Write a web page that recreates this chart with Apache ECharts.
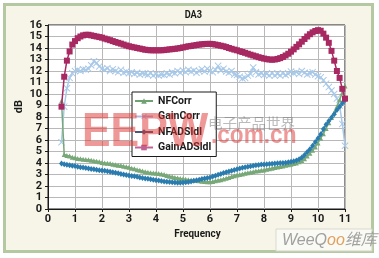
<!DOCTYPE html>
<html><head><meta charset="utf-8">
<script src="https://cdn.jsdelivr.net/npm/echarts@6/dist/echarts.min.js"></script>
<style>html,body{margin:0;padding:0;background:#fff}#c{width:379px;height:258px}</style>
</head><body><div id="c"></div>
<script>
const freq = [0.5,0.6,0.7,0.8,0.9,
 1.0,1.1,1.2,1.3,1.4,1.5,1.6,1.7,1.8,1.9,
 2.0,2.1,2.2,2.3,2.4,2.5,2.6,2.7,2.8,2.9,
 3.0,3.1,3.2,3.3,3.4,3.5,3.6,3.7,3.8,3.9,
 4.0,4.1,4.2,4.3,4.4,4.5,4.6,4.7,4.8,4.9,
 5.0,5.1,5.2,5.3,5.4,5.5,5.6,5.7,5.8,5.9,
 6.0,6.1,6.2,6.3,6.4,6.5,6.6,6.7,6.8,6.9,
 7.0,7.1,7.2,7.3,7.4,7.5,7.6,7.7,7.8,7.9,
 8.0,8.1,8.2,8.3,8.4,8.5,8.6,8.7,8.8,8.9,
 9.0,9.1,9.2,9.3,9.4,9.5,9.6,9.7,9.8,9.9,
 10.0,10.1,10.2,10.3,10.4,10.5,10.6,10.7,10.8,10.9,
 11.0];

const nfCorr = [9.4,4.75,4.65,4.6,4.5,
 4.45,4.4,4.38,4.33,4.3,4.28,4.25,4.2,4.15,4.1,
 4.05,4.0,3.98,3.95,3.9,3.85,3.8,3.78,3.72,3.68,
 3.62,3.55,3.5,3.42,3.38,3.3,3.25,3.2,3.15,3.12,
 3.1,3.08,3.05,3.0,2.92,2.85,2.8,2.75,2.7,2.65,
 2.62,2.58,2.55,2.52,2.5,2.47,2.45,2.42,2.4,2.38,
 2.38,2.4,2.45,2.5,2.55,2.6,2.68,2.75,2.82,2.9,
 2.95,3.0,3.05,3.1,3.15,3.2,3.25,3.3,3.33,3.37,
 3.4,3.45,3.5,3.55,3.6,3.65,3.7,3.75,3.8,3.85,
 3.9,3.95,4.0,4.1,4.22,4.38,4.6,4.85,5.1,5.4,
 5.75,6.15,6.55,7.0,7.5,7.95,8.4,8.9,9.5,10.1,
 10.7];

const gainCorr = [5.8,8.9,10.5,11.4,11.8,
 12.0,12.1,12.0,12.15,12.1,12.2,12.5,12.85,12.7,12.4,
 12.2,12.1,12.25,12.0,12.15,12.0,11.9,12.1,11.85,11.95,
 11.8,11.9,11.75,11.85,11.7,11.8,11.75,11.65,11.8,11.6,
 11.75,11.6,11.7,11.65,11.8,11.7,11.9,11.8,12.0,11.85,
 12.05,11.9,12.1,11.95,12.05,11.85,12.0,12.15,11.95,12.2,
 12.0,11.9,12.1,12.45,12.05,12.2,11.95,11.85,12.0,11.7,
 11.65,11.5,11.35,11.4,11.6,11.75,12.3,11.9,11.7,11.8,
 11.65,11.75,11.6,11.8,11.6,11.75,11.6,11.8,11.65,11.75,
 11.95,11.8,11.9,11.75,12.0,11.85,11.7,11.8,11.9,11.7,
 11.55,11.45,11.2,10.9,10.6,10.3,10.0,9.6,9.0,7.4,
 5.5];

const nfADS = [3.95,3.9,3.85,3.8,3.77,
 3.73,3.68,3.64,3.6,3.56,3.52,3.48,3.45,3.42,3.38,
 3.35,3.32,3.28,3.24,3.2,3.15,3.1,3.05,3.0,2.96,
 2.92,2.88,2.84,2.8,2.75,2.7,2.66,2.62,2.58,2.54,
 2.5,2.47,2.43,2.4,2.37,2.34,2.32,2.3,2.29,2.29,
 2.3,2.32,2.35,2.4,2.45,2.5,2.55,2.6,2.65,2.7,
 2.75,2.82,2.9,2.97,3.05,3.12,3.2,3.27,3.33,3.4,
 3.46,3.52,3.58,3.63,3.68,3.72,3.76,3.8,3.83,3.86,
 3.88,3.9,3.92,3.93,3.95,3.97,3.99,4.01,4.03,4.06,
 4.1,4.15,4.22,4.32,4.48,4.7,4.95,5.2,5.5,5.82,
 6.15,6.5,6.95,7.35,7.65,7.95,8.25,8.6,8.9,9.2,
 9.45];

const gainADS = [8.9,11.5,12.9,13.7,14.3,
 14.6,14.85,15.0,15.1,15.15,15.15,15.1,15.05,15.0,14.95,
 14.9,14.82,14.75,14.68,14.6,14.52,14.45,14.38,14.3,14.22,
 14.15,14.1,14.05,14.0,13.95,13.9,13.85,13.82,13.8,13.8,
 13.8,13.8,13.8,13.82,13.85,13.88,13.9,13.93,13.96,14.0,
 14.05,14.1,14.15,14.18,14.22,14.26,14.3,14.32,14.35,14.36,
 14.36,14.34,14.3,14.25,14.2,14.15,14.08,14.0,13.93,13.86,
 13.8,13.72,13.65,13.58,13.5,13.42,13.35,13.28,13.2,13.14,
 13.08,13.03,13.0,12.98,13.0,13.05,13.12,13.22,13.35,13.5,
 13.68,13.88,14.1,14.32,14.55,14.78,15.0,15.2,15.36,15.48,
 15.55,15.5,15.25,14.9,14.45,13.75,12.9,12.0,11.4,10.45,
 9.6];

const seriesNames = ['NFCorr','GainCorr','NFADSldl','GainADSldl'];
const xTicks = {min:0, max:11, interval:1};
const yTicks = {min:0, max:16, interval:1};

const F = "Roboto, 'DejaVu Sans Condensed', sans-serif";
const pairs = arr => freq.map((f,i)=>[f, arr[i]]);
const xMark = 'path://M1,0L5,4L9,0L10,1L6,5L10,9L9,10L5,6L1,10L0,9L4,5L0,1Z';

const chart = echarts.init(document.getElementById('c'), null, {renderer:'canvas'});
chart.setOption({
  animation:false,
  backgroundColor:'#ffffff',
  graphic:[
    {type:'rect', z:-10, shape:{x:4.5,y:4.5,width:368,height:247}, style:{fill:'#f7f5e7', stroke:'#b4c8a2', lineWidth:3}},
    {type:'text', z:3, x:193.3, y:14.8, scaleX:0.8, style:{text:'DA3', x:0, y:0, align:'center', verticalAlign:'middle', font:'bold 11.5px '+F, fill:'#1a1a1a'}},
    {type:'text', z:3, x:197.5, y:233.8, scaleX:0.86, style:{text:'Frequency', x:0, y:0, align:'center', verticalAlign:'middle', font:'bold 11.5px '+F, fill:'#1a1a1a'}},
    {type:'text', z:3, x:18.8, y:106.7, rotation:Math.PI/2, scaleX:0.95, style:{text:'dB', x:0, y:0, align:'center', verticalAlign:'middle', font:'bold 11.5px '+F, fill:'#1a1a1a'}},
    {type:'text', z:100, x:82, y:132, scaleX:0.875, style:{text:'EEPW', x:0, y:0, align:'left', verticalAlign:'middle', font:'bold 49px "Liberation Sans", sans-serif', fill:'rgba(222,50,50,0.5)'}},
    {type:'text', z:100, x:208, y:123, style:{text:'电子产品世界', x:0, y:0, align:'left', verticalAlign:'middle', font:'14.5px "Noto Sans CJK SC", sans-serif', fill:'rgba(120,120,120,0.5)'}},
    {type:'text', z:100, x:211, y:136, scaleX:0.87, style:{text:'.com.cn', x:0, y:0, align:'left', verticalAlign:'middle', font:'bold 26px "Liberation Sans", sans-serif', fill:'rgba(222,50,50,0.5)'}},
    {type:'rect', z:100, shape:{x:276,y:229,width:96,height:22}, style:{fill:'rgba(250,250,246,0.85)', stroke:'rgba(215,215,205,0.9)', lineWidth:1}},
    {type:'text', z:101, x:282, y:240.5, style:{
      text:'{a|WeeQ}{b|oo}{a|维库}', x:0, y:0, verticalAlign:'middle',
      rich:{a:{font:'italic 16px "Liberation Sans", "Noto Sans CJK SC", sans-serif', fill:'#a0a0a0'},
            b:{font:'italic 16px "Liberation Sans", sans-serif', fill:'#e0a060'}}}}
  ],
  grid:{left:48, top:25, right:34, bottom:49, show:true, backgroundColor:'#ffffff', borderColor:'#1a1a1a', borderWidth:1},
  legend:{
    orient:'vertical', left:132, top:92,
    backgroundColor:'#ffffff', borderColor:'#1a1a1a', borderWidth:1, borderRadius:0,
    padding:[3,5,3,2], itemGap:3.5, itemWidth:18, itemHeight:7,
    textStyle:{fontFamily:F, fontWeight:'bold', fontSize:10.5, color:'#1a1a1a', lineHeight:12},
    data:[
      {name:seriesNames[0], itemStyle:{color:'#6fa270'}, lineStyle:{color:'#6fa270'}},
      {name:seriesNames[1], itemStyle:{color:'#b4b4dc'}, lineStyle:{color:'#b4b4dc'}},
      {name:seriesNames[2], itemStyle:{color:'#4c5878'}, lineStyle:{color:'#4c5878'}},
      {name:seriesNames[3], itemStyle:{color:'#c06294'}, lineStyle:{color:'#c06294'}}
    ]
  },
  xAxis:{type:'value', min:xTicks.min, max:xTicks.max, interval:xTicks.interval,
    axisLine:{show:true, lineStyle:{color:'#1a1a1a'}},
    axisTick:{show:true, length:3, lineStyle:{color:'#1a1a1a'}},
    axisLabel:{fontFamily:F, fontWeight:'bold', fontSize:11, color:'#1a1a1a', margin:5, showMinLabel:true, showMaxLabel:true, hideOverlap:false},
    splitLine:{show:true, lineStyle:{color:'#b8b8b8', width:1}}},
  yAxis:{type:'value', min:yTicks.min, max:yTicks.max, interval:yTicks.interval,
    axisLine:{show:true, lineStyle:{color:'#1a1a1a'}},
    axisTick:{show:true, length:3, lineStyle:{color:'#1a1a1a'}},
    axisLabel:{fontFamily:F, fontWeight:'bold', fontSize:11, color:'#1a1a1a', margin:6, showMinLabel:true, showMaxLabel:true, hideOverlap:false},
    splitLine:{show:true, lineStyle:{color:'#b8b8b8', width:1}}},
  series:[
    {name:seriesNames[1], type:'line', data:pairs(gainCorr), symbol:xMark, symbolSize:7,
      itemStyle:{color:'#a9c9e8'}, lineStyle:{color:'#a9c9e8', width:1.5}, z:2},
    {name:seriesNames[0], type:'line', data:pairs(nfCorr), symbol:'triangle', symbolSize:5,
      itemStyle:{color:'#78a878'}, lineStyle:{color:'#78a878', width:1.5}, z:3},
    {name:seriesNames[2], type:'line', data:pairs(nfADS), symbol:'diamond', symbolSize:[5,6],
      itemStyle:{color:'#2a7caf'}, lineStyle:{color:'#2a7caf', width:1.5}, z:4},
    {name:seriesNames[3], type:'line', data:pairs(gainADS), symbol:'rect', symbolSize:6,
      itemStyle:{color:'#a82862'}, lineStyle:{color:'#a82862', width:1.5}, z:5}
  ]
});
</script></body></html>
